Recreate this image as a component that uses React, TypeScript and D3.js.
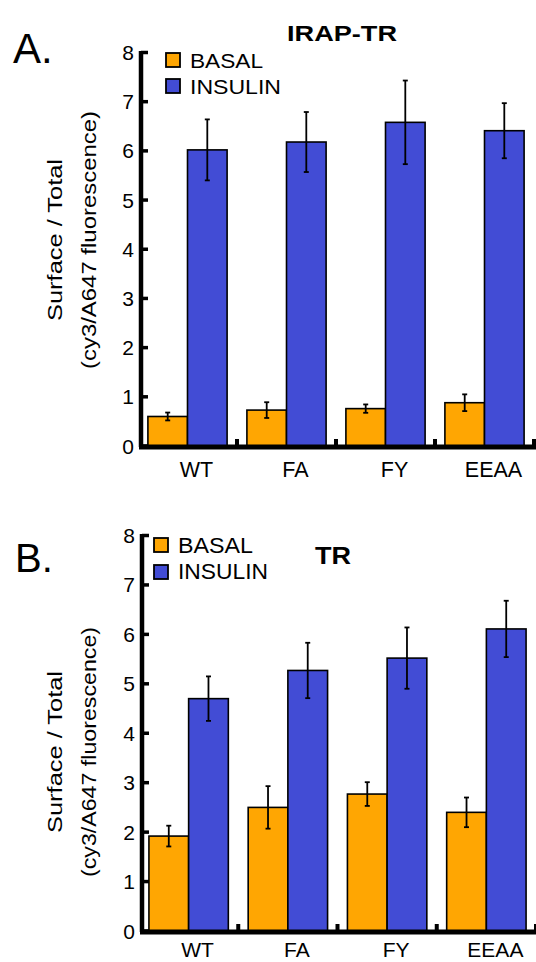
import React from "react";
import * as d3 from "d3";

const categories = ["WT", "FA", "FY", "EEAA"];
const seriesNames = ["BASAL", "INSULIN"];
const yTicks = [0, 1, 2, 3, 4, 5, 6, 7, 8];

const irapBasal = [0.6, 0.73, 0.76, 0.88];
const irapBasalErr = [0.08, 0.16, 0.085, 0.17];
const irapInsulin = [6.02, 6.18, 6.58, 6.41];
const irapInsulinErr = [0.62, 0.61, 0.85, 0.56];

const trBasal = [1.92, 2.5, 2.77, 2.4];
const trBasalErr = [0.21, 0.43, 0.24, 0.3];
const trInsulin = [4.7, 5.27, 5.52, 6.11];
const trInsulinErr = [0.45, 0.56, 0.62, 0.57];

const colors = ["#FFA602", "#424CD5"];
const FONT = "'Liberation Sans', Arial, Helvetica, sans-serif";

type PanelCfg = {
  letter: string; letterX: number; letterY: number; letterSize: number;
  title: string; titleX: number; titleY: number; titleSize: number; titleLen: number;
  y0: number; y8: number; xRange: [number, number];
  legSqX: number; legSqY: number[]; legTextX: number; legBase: number[]; legLen: number[]; legSize: number;
  axTitleY: number; line1Len: number; line2Len: number; catBase: number; catSize: number;
  basal: number[]; basalErr: number[]; insulin: number[]; insulinErr: number[];
};

const panels: PanelCfg[] = [
  {
    letter: "A.", letterX: 13, letterY: 63, letterSize: 42,
    title: "IRAP-TR", titleX: 287, titleY: 41, titleSize: 21.5, titleLen: 110,
    y0: 446, y8: 52.5, xRange: [138, 534],
    legSqX: 166, legSqY: [53, 79], legTextX: 190, legBase: [67.5, 93.5], legLen: [73, 91], legSize: 21,
    axTitleY: 240, line1Len: 162, line2Len: 258, catBase: 477, catSize: 21.5,
    basal: irapBasal, basalErr: irapBasalErr, insulin: irapInsulin, insulinErr: irapInsulinErr,
  },
  {
    letter: "B.", letterX: 15, letterY: 572, letterSize: 40,
    title: "TR", titleX: 315, titleY: 564, titleSize: 24, titleLen: 36,
    y0: 931, y8: 535.5, xRange: [139, 536],
    legSqX: 154, legSqY: [538, 565], legTextX: 178, legBase: [552.5, 579], legLen: [75, 90], legSize: 22,
    axTitleY: 752, line1Len: 162, line2Len: 250, catBase: 957, catSize: 21,
    basal: trBasal, basalErr: trBasalErr, insulin: trInsulin, insulinErr: trInsulinErr,
  },
];

function Panel({ c }: { c: PanelCfg }) {
  const y = d3.scaleLinear().domain([0, 8]).range([c.y0, c.y8]);
  const x0 = d3.scaleBand<string>().domain(categories).range(c.xRange).paddingInner(0).paddingOuter(0);
  const x1 = d3.scaleBand<string>().domain(seriesNames).range([0, x0.bandwidth()]).paddingInner(0).paddingOuter(0.25);
  const axX = c.xRange[0] + 3;
  const values = [c.basal, c.insulin];
  const errs = [c.basalErr, c.insulinErr];
  const axisY = c.y0 + 1;
  return (
    <g fontFamily={FONT}>
      <text x={c.letterX} y={c.letterY} fontSize={c.letterSize}>{c.letter}</text>
      <text x={c.titleX} y={c.titleY} fontSize={c.titleSize} fontWeight="bold"
        textLength={c.titleLen} lengthAdjust="spacingAndGlyphs">{c.title}</text>

      {/* bars */}
      {categories.map((cat, i) => (
        <g key={cat} transform={`translate(${x0(cat)},0)`}>
          {seriesNames.map((s, k) => {
            const v = values[k][i];
            const e = errs[k][i];
            const bx = x1(s)!;
            const bw = x1.bandwidth();
            const cx = bx + bw / 2;
            return (
              <g key={s}>
                <rect x={bx} y={y(v)} width={bw} height={c.y0 - y(v)} fill={colors[k]} stroke="#000" strokeWidth={1.6} />
                <line x1={cx} x2={cx} y1={y(v + e)} y2={y(v - e)} stroke="#000" strokeWidth={1.8} />
                <line x1={cx - 2.5} x2={cx + 2.5} y1={y(v + e)} y2={y(v + e)} stroke="#000" strokeWidth={1.8} />
                <line x1={cx - 2.5} x2={cx + 2.5} y1={y(v - e)} y2={y(v - e)} stroke="#000" strokeWidth={1.8} />
              </g>
            );
          })}
        </g>
      ))}

      {/* y axis */}
      <line x1={axX} x2={axX} y1={y(8) - 1.5} y2={axisY} stroke="#000" strokeWidth={4.5} />
      {yTicks.map((t) => (
        <g key={t}>
          <line x1={axX} x2={axX + 7} y1={y(t)} y2={y(t)} stroke="#000" strokeWidth={3.5} />
          <text x={axX - 7} y={y(t)} dy="0.36em" textAnchor="end" fontSize={21}>{t}</text>
        </g>
      ))}

      {/* x axis */}
      <line x1={axX - 2} x2={536} y1={axisY} y2={axisY} stroke="#000" strokeWidth={5} />
      {categories.map((cat) => (
        <line key={cat + "t"} x1={x0(cat)! + x0.bandwidth()} x2={x0(cat)! + x0.bandwidth()}
          y1={axisY} y2={axisY - 8} stroke="#000" strokeWidth={4} />
      ))}
      {categories.map((cat) => (
        <text key={cat + "l"} x={x0(cat)! + x0.bandwidth() / 2 + 9} y={c.catBase} textAnchor="middle" fontSize={c.catSize}>{cat}</text>
      ))}

      {/* legend */}
      {seriesNames.map((s, k) => (
        <g key={s}>
          <rect x={c.legSqX} y={c.legSqY[k]} width={14} height={14} fill={colors[k]} stroke="#000" strokeWidth={1.8} />
          <text x={c.legTextX} y={c.legBase[k]} fontSize={c.legSize} textLength={c.legLen[k]} lengthAdjust="spacingAndGlyphs">{s}</text>
        </g>
      ))}

      {/* y axis title */}
      <text transform={`translate(62,${c.axTitleY}) rotate(-90)`} textAnchor="middle" fontSize={21}
        textLength={c.line1Len} lengthAdjust="spacingAndGlyphs">Surface / Total</text>
      <text transform={`translate(96,${c.axTitleY}) rotate(-90)`} textAnchor="middle" fontSize={21}
        textLength={c.line2Len} lengthAdjust="spacingAndGlyphs">(cy3/A647 fluorescence)</text>
    </g>
  );
}

export default function App() {
  return (
    <svg width={536} height={962} style={{ position: "absolute", left: 0, top: 0, background: "#fff" }}>
      <rect x={0} y={0} width={536} height={962} fill="#fff" />
      {panels.map((p) => (
        <Panel key={p.title} c={p} />
      ))}
    </svg>
  );
}
